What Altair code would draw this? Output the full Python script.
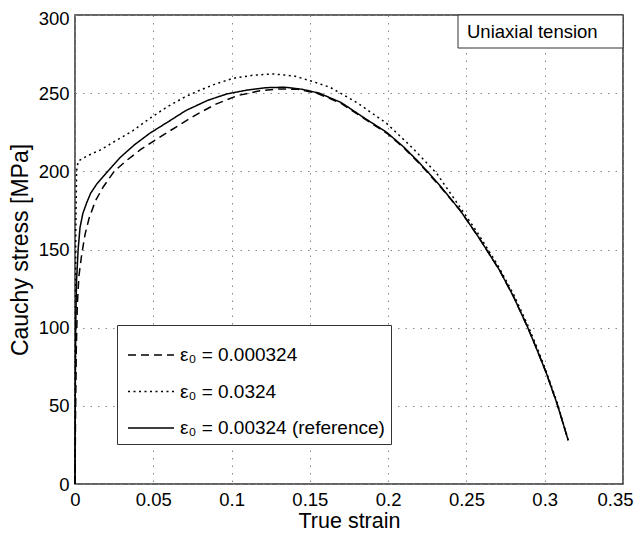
import altair as alt
import pandas as pd

# Reference curve, eps0 = 0.00324 (solid)
ref_strain = [0, 0.0002, 0.0005, 0.001, 0.002, 0.0032, 0.005, 0.0075, 0.01, 0.014, 0.02, 0.029,
              0.038, 0.048, 0.06, 0.071, 0.085, 0.097, 0.11, 0.122, 0.134, 0.145, 0.156, 0.17,
              0.185, 0.199, 0.21, 0.22, 0.233, 0.246, 0.258, 0.271, 0.28, 0.289, 0.295, 0.301,
              0.308, 0.315]
ref_stress = [0, 60, 105, 130, 150, 164, 173, 180, 186, 192, 199, 209,
              217, 224.5, 232, 239, 245.5, 249.5, 252, 253.5, 253.8, 252.5, 250, 244,
              234, 225, 215.5, 205.5, 191, 175, 157.5, 137, 120, 100.5, 86, 71,
              51, 28]

# eps0 = 0.000324 (dashed)
low_strain = [0, 0.0003, 0.0008, 0.0015, 0.0025, 0.0043, 0.0065, 0.009, 0.013, 0.018, 0.025,
              0.033, 0.042, 0.052, 0.064, 0.077, 0.09, 0.104, 0.118, 0.13, 0.142, 0.155, 0.17,
              0.185, 0.199, 0.21, 0.22, 0.233, 0.246, 0.258, 0.271, 0.28, 0.289, 0.295, 0.301,
              0.308, 0.315]
low_stress = [0, 40, 85, 115, 133, 147, 160, 170, 181, 190, 200,
              207, 214, 220.5, 228, 236, 243, 248.5, 251.5, 252.7, 252.5, 249.8, 243.5,
              233.5, 224.5, 215, 205, 190.5, 175, 157.5, 137, 120, 100.5, 86, 71,
              51, 28]

# eps0 = 0.0324 (dotted)
high_strain = [0, 0.0002, 0.0005, 0.001, 0.002, 0.008, 0.016, 0.026, 0.037, 0.048, 0.0585,
               0.07, 0.08, 0.09, 0.101, 0.114, 0.1266, 0.14, 0.152, 0.163, 0.18, 0.199, 0.215,
               0.231, 0.2566, 0.27, 0.28, 0.289, 0.295, 0.301, 0.308, 0.315]
high_stress = [0, 80, 160, 200, 206.5, 210, 213.6, 219.5, 226, 234, 241,
               247.5, 252, 256, 259.5, 261.5, 262.3, 261, 257.4, 253.7, 244, 230.7, 215.5,
               198.7, 161.5, 140, 121.5, 102, 87.5, 72, 52, 28]

labels = ["ε₀ = 0.000324", "ε₀ = 0.0324", "ε₀ = 0.00324 (reference)"]
x_ticks = [0, 0.05, 0.1, 0.15, 0.2, 0.25, 0.3, 0.35]
y_ticks = [0, 50, 100, 150, 200, 250, 300]

rows = []
for lab, xs, ys in [(labels[0], low_strain, low_stress),
                    (labels[1], high_strain, high_stress),
                    (labels[2], ref_strain, ref_stress)]:
    for i, (a, b) in enumerate(zip(xs, ys)):
        rows.append({"series": lab, "strain": a, "stress": b, "order": i})
df = pd.DataFrame(rows)

FONT = "Liberation Sans"

lines = alt.Chart(df).mark_line(color="black", strokeWidth=1.5).encode(
    x=alt.X("strain:Q", scale=alt.Scale(domain=[0, 0.35], nice=False),
            axis=alt.Axis(values=x_ticks, format="~g", title="True strain",
                          labelFlush=False,
                          labelOffset=alt.condition("datum.value >= 0.349",
                                                    alt.value(-8), alt.value(0)))),
    y=alt.Y("stress:Q", scale=alt.Scale(domain=[0, 300], nice=False),
            axis=alt.Axis(values=y_ticks, title="Cauchy stress [MPa]",
                          labelFlush=False,
                          labelOffset=alt.condition("datum.value >= 299",
                                                    alt.value(3), alt.value(0)))),
    strokeDash=alt.StrokeDash(
        "series:N",
        scale=alt.Scale(domain=labels, range=[[8, 5], [2, 3.5], [1, 0]]),
        legend=alt.Legend(
            title=None, orient="none", legendX=42, legendY=310,
            symbolType="stroke", symbolSize=2116, symbolStrokeWidth=1.5,
            symbolStrokeColor="black", symbolOffset=4, labelFontSize=19, labelFont=FONT,
            labelColor="black", labelOffset=5, rowPadding=2.5, padding=6,
            strokeColor="#333", fillColor="white", labelLimit=400,
        ),
    ),
    order="order:Q",
)

box_df = pd.DataFrame({"label": ["Uniaxial tension"]})
box = alt.Chart(box_df).mark_rect(fill="white", stroke="#333", strokeWidth=1).encode(
    x=alt.value(383), x2=alt.value(548), y=alt.value(0), y2=alt.value(33)
)
box_text = alt.Chart(box_df).mark_text(
    align="left", baseline="middle", fontSize=18.5, font=FONT, color="black"
).encode(x=alt.value(392), y=alt.value(17), text="label:N")

chart = alt.layer(lines, box, box_text).properties(
    width=548, height=469,
    autosize=alt.AutoSizeParams(type="none"),
    padding={"left": 67, "top": 7, "right": 11, "bottom": 50},
).configure_view(
    stroke="#333", strokeWidth=1.5
).configure_axis(
    grid=True, gridColor="#888", gridDash=[1.5, 6], gridWidth=1,
    domain=False, ticks=False, labelFont=FONT, titleFont=FONT,
    labelFontSize=18.5, labelColor="black", titleColor="black",
    titleFontWeight="normal", labelPadding=6,
).configure_axisY(titlePadding=5.5, titleFontSize=23).configure_axisX(
    titlePadding=2, titleFontSize=21.5)

chart.save("out.html", embed_options={"renderer": "svg", "actions": False})
